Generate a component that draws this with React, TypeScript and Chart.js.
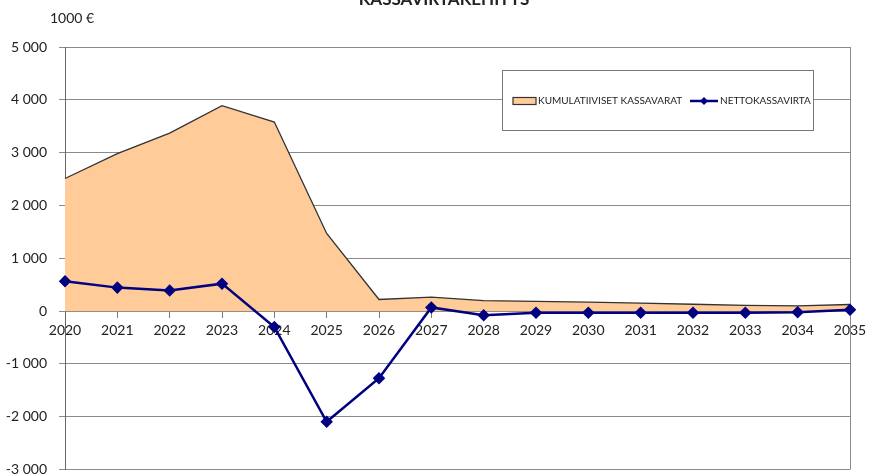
import React, { useEffect, useRef } from "react";
import { Chart, registerables } from "chart.js";

Chart.register(...registerables);

const years = ["2020","2021","2022","2023","2024","2025","2026","2027","2028","2029","2030","2031","2032","2033","2034","2035"];
const kumulatiiviset = [2510, 2980, 3370, 3890, 3580, 1470, 220, 265, 200, 185, 170, 150, 130, 110, 100, 125];
const nettokassavirta = [565, 445, 390, 520, -300, -2095, -1270, 70, -80, -30, -30, -30, -30, -30, -20, 25];
const yTicks = { min: -3000, max: 5000, step: 1000 };
const titleText = "KASSAVIRTAKEHITYS";
const unitText = "1000 €";

const FONT = "Lato, 'Liberation Sans', sans-serif";

const fmt = (v: number) => {
  const s = Math.abs(v).toString().replace(/\B(?=(\d{3})+(?!\d))/g, " ");
  return (v < 0 ? "-" : "") + s;
};

const decorPlugin = {
  id: "decor",
  beforeDatasetsDraw(chart: any) {
    const { ctx, chartArea } = chart;
    ctx.save();
    ctx.strokeStyle = "#8a8a8a";
    ctx.lineWidth = 1;
    ctx.beginPath();
    ctx.moveTo(Math.round(chartArea.right) + 0.5, chartArea.top);
    ctx.lineTo(Math.round(chartArea.right) + 0.5, chartArea.bottom);
    ctx.stroke();
    ctx.restore();
  },
  afterDraw(chart: any) {
    const { ctx } = chart;
    ctx.save();
    ctx.fillStyle = "#222";
    ctx.font = `bold 17px ${FONT}`;
    ctx.textAlign = "center";
    ctx.textBaseline = "alphabetic";
    ctx.fillText(titleText, 444, 5);
    ctx.font = `14px ${FONT}`;
    ctx.textAlign = "left";
    ctx.textBaseline = "middle";
    ctx.fillText(unitText, 50, 18);

    const bx = 502.5, by = 70.5, bw = 311, bh = 60;
    ctx.fillStyle = "#fff";
    ctx.fillRect(bx, by, bw, bh);
    ctx.strokeStyle = "#777";
    ctx.lineWidth = 1;
    ctx.strokeRect(bx, by, bw, bh);

    const ds = chart.data.datasets;
    const area = ds.find((d: any) => d.fill);
    const line = ds.find((d: any) => !d.fill);
    const cy = 101;
    ctx.font = `10px ${FONT}`;
    ctx.textBaseline = "middle";
    ctx.fillStyle = area.backgroundColor;
    ctx.fillRect(513, cy - 3.5, 23, 7);
    ctx.strokeStyle = "#333";
    ctx.lineWidth = 1.2;
    ctx.strokeRect(513, cy - 3.5, 23, 7);
    ctx.fillStyle = "#222";
    ctx.fillText(area.label, 538, cy);
    ctx.strokeStyle = line.borderColor;
    ctx.lineWidth = 2.5;
    ctx.beginPath();
    ctx.moveTo(690, cy);
    ctx.lineTo(718, cy);
    ctx.stroke();
    ctx.fillStyle = line.borderColor;
    ctx.beginPath();
    ctx.moveTo(704, cy - 4);
    ctx.lineTo(708, cy);
    ctx.lineTo(704, cy + 4);
    ctx.lineTo(700, cy);
    ctx.closePath();
    ctx.fill();
    ctx.fillStyle = "#222";
    ctx.fillText(line.label, 720, cy);
    ctx.restore();
  },
};

export default function App() {
  const ref = useRef<HTMLCanvasElement>(null);
  useEffect(() => {
    document.body.style.margin = "0";
    const canvas = ref.current!;
    const chart = new Chart(canvas, {
      type: "line",
      data: {
        labels: years,
        datasets: [
          {
            label: "NETTOKASSAVIRTA",
            data: nettokassavirta,
            borderColor: "#000080",
            backgroundColor: "#000080",
            borderWidth: 2.5,
            pointStyle: "rectRot",
            pointRadius: 4.5,
            pointBackgroundColor: "#000080",
            pointBorderColor: "#000080",
            fill: false,
            tension: 0,
            order: 1,
          },
          {
            label: "KUMULATIIVISET KASSAVARAT",
            data: kumulatiiviset,
            borderColor: "#333333",
            backgroundColor: "#FFCC99",
            borderWidth: 1.3,
            pointRadius: 0,
            fill: "origin",
            tension: 0,
            order: 2,
          },
        ],
      },
      options: {
        responsive: false,
        animation: false,
        layout: { padding: { left: 0, right: 28, top: 47, bottom: 7 } },
        plugins: {
          legend: { display: false },
          title: { display: false },
          tooltip: { enabled: false },
        },
        scales: {
          x: {
            type: "category",
            offset: false,
            position: { y: 0 } as any,
            grid: {
              drawOnChartArea: false,
              drawTicks: true,
              tickLength: 6,
              color: "#777",
            },
            border: { display: true, color: "#777" },
            ticks: {
              color: "#222",
              font: { family: FONT, size: 14 },
              padding: 5,
              maxRotation: 0,
              autoSkip: false,
            },
          },
          y: {
            min: yTicks.min,
            max: yTicks.max,
            grid: { color: "#8a8a8a", tickLength: 6, lineWidth: 1 },
            border: { display: true, color: "#666" },
            ticks: {
              stepSize: yTicks.step,
              color: "#222",
              font: { family: FONT, size: 14 },
              padding: 12,
              callback: (v: any) => fmt(Number(v)),
            },
            afterFit: (s: any) => {
              s.width = 65;
            },
          },
        },
      },
      plugins: [decorPlugin],
    });
    return () => chart.destroy();
  }, []);
  return (
    <div style={{ width: 878, height: 475, overflow: "hidden", background: "#fff" }}>
      <canvas ref={ref} width={878} height={490} style={{ display: "block" }} />
    </div>
  );
}
